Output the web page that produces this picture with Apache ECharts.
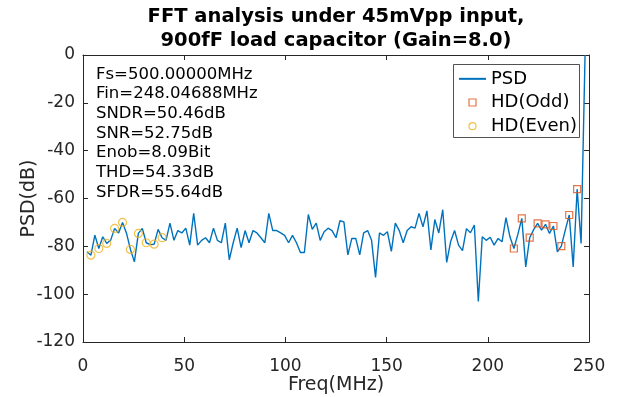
<!DOCTYPE html>
<html>
    <head>
        <title>fft_psd</title>
        <script src="https://cdn.jsdelivr.net/npm/echarts@6/dist/echarts.min.js"></script>
        <style>
            body { margin: 0; background: #fff; }
        </style>
    </head>
    <body>
        <div id="main" style="width: 619px; height: 397px;"></div>
        <script>
            var FS = 500;       // MHz
            var NFFT = 256;
            // PSD (dB) for bins 1..127
            var psd = [
                -82.3, -83.7, -75.3, -80.9, -76.0, -78.8, -77.4, -72.5, -74.4, -70.0,
                -74.5, -81.3, -86.5, -74.6, -72.5, -78.5, -79.3, -79.1, -72.9, -76.4,
                -77.5, -70.3, -77.5, -73.4, -74.4, -72.4, -79.5, -66.2, -79.5, -77.5,
                -76.4, -78.5, -72.4, -77.5, -78.5, -70.3, -85.6, -78.5, -72.4, -80.5,
                -73.4, -78.5, -73.4, -74.4, -76.4, -78.5, -66.2, -73.4, -73.4, -74.4,
                -75.4, -78.5, -75.4, -78.5, -82.6, -82.6, -66.7, -72.9, -70.3, -77.5,
                -73.9, -72.4, -73.4, -76.4, -69.3, -69.8, -83.6, -76.7, -76.7, -83.6,
                -74.4, -73.4, -77.5, -93.0, -74.4, -75.4, -73.9, -82.1, -70.3, -73.4,
                -78.5, -73.4, -71.8, -72.4, -66.2, -71.8, -65.2, -81.5, -68.8, -74.4,
                -64.7, -86.7, -78.0, -73.4, -79.5, -81.8, -72.6, -74.3, -71.1, -103.0,
                -76.0, -77.5, -76.2, -79.5, -76.7, -78.1, -68.0, -76.0, -80.9, -75.0,
                -68.3, -88.6, -76.4, -73.0, -70.4, -73.2, -70.8, -74.6, -71.5, -82.3,
                -79.9, -73.2, -66.9, -88.6, -56.1, -78.8, 0
            ];
            // folded harmonic bins (3rd..19th odd, 2nd..20th even)
            var odd_bins = [125, 123, 121, 119, 117, 115, 113, 111, 109];
            var even_bins = [2, 4, 6, 8, 10, 12, 14, 16, 18, 20];
            var info_lines = [
                'Fs=500.00000MHz',
                'Fin=248.04688MHz',
                'SNDR=50.46dB',
                'SNR=52.75dB',
                'Enob=8.09Bit',
                'THD=54.33dB',
                'SFDR=55.64dB'
            ];
            var title_lines = ['FFT analysis under 45mVpp input,', '900fF load capacitor (Gain=8.0)'];
            var x_min = 0, x_max = 250, x_step = 50;
            var y_min = -120, y_max = 0, y_step = 20;

            var FONT = 'DejaVu Sans';
            var AX = '#262626';

            function bin_freq(k) {
                return k * FS / NFFT;
            }
            var line_data = psd.map(function (v, i) {
                return [bin_freq(i + 1), v];
            });
            function harm_points(bins) {
                return bins.map(function (k) {
                    return [bin_freq(k), psd[k - 1]];
                });
            }

            function axis_common(show_label) {
                return {
                    axisLine: { show: true, onZero: false, lineStyle: { color: AX, width: 1 } },
                    axisTick: { show: true, inside: true, length: 5, lineStyle: { color: AX } },
                    axisLabel: { show: show_label, color: AX, fontSize: 17, fontFamily: FONT, margin: 8 },
                    splitLine: { show: false }
                };
            }
            function make_x(pos, show_label) {
                return Object.assign({
                    type: 'value', position: pos, min: x_min, max: x_max, interval: x_step
                }, axis_common(show_label));
            }
            function make_y(pos, show_label) {
                return Object.assign({
                    type: 'value', position: pos, min: y_min, max: y_max, interval: y_step
                }, axis_common(show_label));
            }

            var xa = make_x('bottom', true);
            xa.name = 'Freq(MHz)';
            xa.nameLocation = 'middle';
            xa.nameGap = 24;
            xa.nameMoveOverlap = false;
            xa.nameTextStyle = { color: AX, fontSize: 19, fontFamily: FONT };
            var ya = make_y('left', true);
            ya.name = 'PSD(dB)';
            ya.nameLocation = 'middle';
            ya.nameGap = 35;
            ya.nameMoveOverlap = false;
            ya.nameTextStyle = { color: AX, fontSize: 19, fontFamily: FONT };

            var chart = echarts.init(document.getElementById('main'), null, { renderer: 'canvas' });
            var option = {
                animation: false,
                backgroundColor: '#fff',
                title: {
                    text: title_lines.join('\n'),
                    left: 336,
                    textAlign: 'center',
                    top: 5,
                    padding: 0,
                    textStyle: { fontFamily: FONT, fontSize: 19.5, fontWeight: 'bold', color: '#000', lineHeight: 24 }
                },
                grid: { left: 83, right: 30, top: 55, bottom: 55, outerBoundsMode: 'none' },
                xAxis: [xa, make_x('top', false)],
                yAxis: [ya, make_y('right', false)],
                legend: {
                    orient: 'vertical',
                    left: 458,
                    top: 61,
                    z: 20,
                    itemWidth: 27,
                    itemHeight: 7,
                    itemGap: -12,
                    padding: 0,
                    textStyle: { color: '#000', fontSize: 18, fontFamily: FONT, lineHeight: 18 },
                    data: [
                        { name: 'PSD', itemStyle: { color: 'rgba(0,0,0,0)', opacity: 0, borderWidth: 0 } },
                        { name: 'HD(Odd)', icon: 'path://M0,0H10V10H0Z', itemStyle: { color: 'rgba(0,0,0,0)', borderColor: '#D95319', borderWidth: 1.2 } },
                        { name: 'HD(Even)', icon: 'circle', itemStyle: { color: 'rgba(0,0,0,0)', borderColor: '#EDB120', borderWidth: 1.2 } }
                    ]
                },
                graphic: [
                    {
                        // legend frame
                        type: 'rect',
                        shape: { x: 453.5, y: 64.5, width: 126, height: 73 },
                        style: { fill: '#fff', stroke: '#262626', lineWidth: 0.8 },
                        z: 4
                    },
                    {
                        type: 'text',
                        left: 96,
                        top: 58,
                        style: {
                            text: info_lines.join('\n'),
                            fontFamily: FONT,
                            fontSize: 16.5,
                            lineHeight: 19.7,
                            fill: '#000'
                        }
                    }
                ],
                series: [
                    {
                        name: 'PSD',
                        type: 'line',
                        data: line_data,
                        symbol: 'none',
                        showSymbol: false,
                        clip: true,
                        lineStyle: { color: '#0072BD', width: 1.4 },
                        itemStyle: { color: '#0072BD' },
                        z: 2
                    },
                    {
                        name: 'HD(Odd)',
                        type: 'scatter',
                        data: harm_points(odd_bins),
                        symbol: 'rect',
                        symbolSize: 7,
                        itemStyle: { color: 'rgba(0,0,0,0)', borderColor: '#D95319', borderWidth: 1.2 },
                        z: 3
                    },
                    {
                        name: 'HD(Even)',
                        type: 'scatter',
                        data: harm_points(even_bins),
                        symbol: 'circle',
                        symbolSize: 8,
                        itemStyle: { color: 'rgba(0,0,0,0)', borderColor: '#EDB120', borderWidth: 1.2 },
                        z: 3
                    }
                ]
            };
            chart.setOption(option);
        </script>
    </body>
</html>
